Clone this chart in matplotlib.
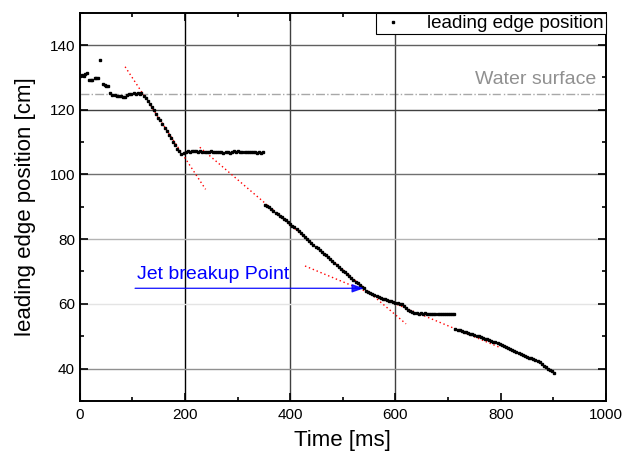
import matplotlib
matplotlib.use("Agg")
import matplotlib.pyplot as plt
from matplotlib.ticker import MultipleLocator

plt.rcParams["font.family"] = ["Liberation Sans", "DejaVu Sans"]

# ── data ────────────────────────────────────────────────────────────────────
t_pre = [1, 4, 7, 10, 13, 18, 21, 24, 28, 31, 34, 39, 44, 47, 50, 53, 58, 62,
         66, 70, 74, 78, 82, 86, 90, 94, 98, 102, 106, 110, 114, 117]
y_pre = [130.3, 130.6, 130.5, 131.0, 131.5, 129.2, 129.1, 129.2, 129.8, 129.8,
         129.9, 135.3, 128.1, 127.6, 127.5, 127.5, 125.2, 124.6, 124.5, 124.4,
         124.3, 124.2, 124.1, 123.8, 124.6, 125.0, 125.0, 125.1, 125.0, 125.1,
         125.0, 125.2]

t_fall1 = [121, 125, 129, 133, 137, 141, 145, 149, 153, 157, 161, 165, 169,
           173, 177, 181, 185, 189, 193]
y_fall1 = [124.4, 123.6, 122.7, 121.9, 120.8, 119.9, 118.7, 117.6, 116.7,
           115.5, 114.3, 113.4, 112.2, 111.2, 110.0, 109.1, 108.0, 107.2, 106.3]

t_plat1 = [197, 201, 205, 209, 213, 217, 221, 225, 229, 233, 237, 241, 245,
           249, 253, 257, 261, 265, 269, 273, 277, 281, 285, 289, 293, 297,
           301, 305, 309, 313, 317, 321, 325, 329, 333, 337, 341, 345, 349]
y_plat1 = [106.6, 106.9, 107.1, 107.0, 107.2, 107.1, 107.2, 107.0, 107.1,
           107.0, 106.9, 107.0, 106.9, 107.1, 107.0, 106.9, 107.0, 106.8,
           106.9, 106.7, 106.9, 106.8, 106.7, 106.8, 107.1, 107.0, 107.1,
           106.9, 107.0, 106.9, 107.0, 106.9, 106.8, 106.9, 107.0, 106.7,
           106.8, 106.6, 106.8]

t_fall2 = [352, 356, 360, 364, 368, 372, 376, 380, 384, 388, 392, 396, 400,
           404, 408, 412, 416, 420, 424, 428, 432, 436, 440, 444, 448, 452,
           456, 460, 464, 468, 472, 476, 480, 484, 488, 492, 496, 500, 504,
           508, 512, 516, 520, 524, 528, 532, 536, 540]
y_fall2 = [90.7, 90.3, 89.8, 89.3, 88.7, 88.2, 87.8, 87.3, 86.8, 86.3, 85.8,
           85.3, 84.8, 84.2, 83.6, 83.0, 82.4, 81.8, 81.2, 80.6, 80.0, 79.4,
           78.8, 78.3, 77.7, 77.2, 76.6, 76.1, 75.5, 75.0, 74.5, 73.9, 73.3,
           72.7, 72.1, 71.5, 70.9, 70.3, 69.8, 69.2, 68.7, 68.1, 67.5, 66.9,
           66.4, 65.8, 65.3, 64.8]

t_plat2 = [544, 548, 552, 556, 560, 564, 568, 572, 576, 580, 584, 588, 592,
           596, 600, 604, 608, 612, 616, 620, 624, 628, 632, 636, 640, 644,
           648, 652, 656, 660, 664, 668, 672, 676, 680, 684, 688, 692, 696,
           700, 704, 708, 712]
y_plat2 = [64.1, 63.6, 63.2, 62.9, 62.6, 62.3, 62.0, 61.8, 61.6, 61.4, 61.2,
           61.0, 60.8, 60.6, 60.4, 60.2, 60.0, 59.8, 59.3, 58.8, 58.2, 57.8,
           57.5, 57.2, 57.1, 57.0, 57.1, 56.9, 57.1, 57.0, 56.9, 57.0, 56.9,
           57.0, 56.8, 56.9, 57.0, 56.9, 56.8, 56.9, 56.8, 56.9, 56.8]

t_fall3 = [714, 718, 722, 726, 730, 734, 738, 742, 746, 750, 754, 758, 762,
           766, 770, 774, 778, 782, 786, 790, 794, 798, 802, 806, 810, 814,
           818, 822, 826, 830, 834, 838, 842, 846, 850, 854, 858, 862, 866,
           870, 874, 878, 882, 886, 890, 894, 898, 902]
y_fall3 = [52.2, 52.0, 51.8, 51.6, 51.4, 51.2, 51.0, 50.8, 50.6, 50.3, 50.1,
           49.9, 49.7, 49.5, 49.2, 49.0, 48.8, 48.5, 48.3, 48.1, 47.8, 47.6,
           47.3, 47.0, 46.7, 46.3, 46.0, 45.7, 45.4, 45.0, 44.7, 44.5, 44.2,
           44.0, 43.7, 43.4, 43.2, 42.9, 42.7, 42.4, 41.9, 41.4, 40.9, 40.5,
           40.0, 39.6, 39.1, 38.7]

# linear fits (end points)
fit_t = [[86, 239], [228, 620], [428, 800]]
fit_y = [[133.3, 95.4], [108.4, 53.8], [71.7, 46.4]]

water_level = 125
breakup_t = [105, 540]
breakup_y = 64.8

t_all = t_pre + t_fall1 + t_plat1 + t_fall2 + t_plat2 + t_fall3
y_all = y_pre + y_fall1 + y_plat1 + y_fall2 + y_plat2 + y_fall3

# ── figure ───────────────────────────────────────────────────────────────────
fig = plt.figure(figsize=(6.24, 4.55), dpi=100)
ax = fig.add_axes([0.128, 0.119, 0.843, 0.853])

ax.set_xlim(0, 1000)
ax.set_ylim(30, 150)
ax.xaxis.set_major_locator(MultipleLocator(200))
ax.xaxis.set_minor_locator(MultipleLocator(100))
ax.yaxis.set_major_locator(MultipleLocator(20))
ax.yaxis.set_minor_locator(MultipleLocator(10))
ax.tick_params(which="both", direction="in", top=True, right=True,
               labelsize=11, width=1.2)
ax.tick_params(which="major", length=6)
ax.tick_params(which="minor", length=3)
ax.tick_params(axis="x", pad=5)
for s in ax.spines.values():
    s.set_linewidth(1.4)

# grid lines with uneven greys like the original
ax.grid(True, which="major", linewidth=1.0, zorder=0)
xg = ["#ffffff", "#c8c8c8", "#000000", "#404040", "#404040", "#ffffff"]
for line, c in zip(ax.get_xgridlines(), xg):
    line.set_color(c)
yg = ["#ffffff", "#909090", "#e4e4e4", "#b4b4b4", "#707070", "#404040",
      "#606060", "#ffffff"]
for line, c in zip(ax.get_ygridlines(), yg):
    line.set_color(c)

ax.axhline(water_level, color="#a8a8a8", linestyle="-.", linewidth=1.0,
           zorder=1)
ax.text(982, 126.6, "Water surface", color="#909090", fontsize=14,
        ha="right", va="bottom")

for ft, fy in zip(fit_t, fit_y):
    ax.plot(ft, fy, color="red", linestyle=(0, (1, 2)), linewidth=1.0,
            zorder=2)

ax.plot(t_all, y_all, linestyle="none", marker="s", markersize=1.7,
        color="black", label="leading edge position", zorder=3)

ax.annotate("", xy=(breakup_t[1], breakup_y),
            xytext=(breakup_t[0], breakup_y),
            arrowprops=dict(arrowstyle="-|>,head_length=0.7,head_width=0.25",
                            color="#0000ff", lw=1.0, alpha=0.85,
                            shrinkA=0, shrinkB=0), zorder=4)
ax.text(breakup_t[0] + 3, breakup_y + 1.7, "Jet breakup Point",
        color="#0000ff", fontsize=14, ha="left", va="bottom")

ax.set_xlabel("Time [ms]", fontsize=16, labelpad=6)
ax.set_ylabel("leading edge position [cm]", fontsize=16, labelpad=10)

leg = ax.legend(loc="upper right", fontsize=13.5, borderaxespad=0,
                fancybox=False, framealpha=1, edgecolor="black",
                handlelength=1.6, handletextpad=1.0, borderpad=0.12,
                markerscale=0.9)
leg.get_frame().set_linewidth(0.8)

fig.savefig("out.png", dpi=100)
